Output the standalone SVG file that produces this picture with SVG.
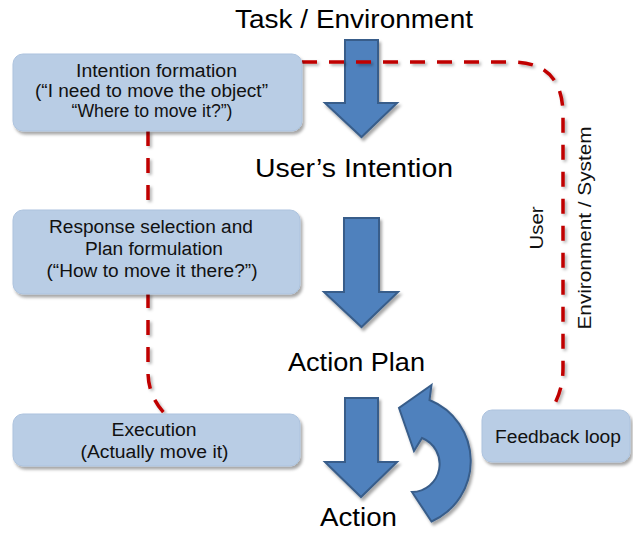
<svg xmlns="http://www.w3.org/2000/svg" width="633" height="533" viewBox="0 0 633 533">
<defs>
<filter id="sh" x="-20%" y="-20%" width="140%" height="150%">
<feDropShadow dx="2" dy="3" stdDeviation="1.8" flood-color="#000" flood-opacity="0.35"/>
</filter>
<filter id="lsh" x="-20%" y="-20%" width="140%" height="140%">
<feDropShadow dx="2" dy="2" stdDeviation="1.5" flood-color="#000" flood-opacity="0.3"/>
</filter>
</defs>
<style>
.box{fill:#b9cde5;stroke:#adc3de;stroke-width:1;filter:url(#sh)}
.arr{fill:#4f81bd;stroke:#385d8a;stroke-width:2;stroke-linejoin:miter;filter:url(#sh)}
.dash{fill:none;stroke:#c00000;stroke-width:3.5;stroke-dasharray:15 12;filter:url(#lsh)}
.bt{font-family:"Liberation Sans",Arial,sans-serif;font-size:18px;fill:#111;text-anchor:middle}
.big{font-family:"Liberation Sans",Arial,sans-serif;font-size:26px;fill:#000;text-anchor:middle}
.vt{font-family:"Liberation Sans",Arial,sans-serif;font-size:19px;fill:#111;text-anchor:middle}
</style>
<rect width="633" height="533" fill="#fff"/>

<g id="labels">
<text class="big" x="354" y="28" textLength="238" lengthAdjust="spacingAndGlyphs">Task / Environment</text>
<text class="big" x="354" y="177" textLength="198" lengthAdjust="spacingAndGlyphs">User’s Intention</text>
<text class="big" x="356.5" y="371" textLength="137" lengthAdjust="spacingAndGlyphs">Action Plan</text>
<text class="big" x="358.5" y="526" textLength="77" lengthAdjust="spacingAndGlyphs">Action</text>
<text class="vt" transform="translate(543,228) rotate(-90)" textLength="43" lengthAdjust="spacingAndGlyphs">User</text>
<text class="vt" transform="translate(591,228) rotate(-90)" textLength="203" lengthAdjust="spacingAndGlyphs">Environment / System</text>
</g>

<g id="arrow-task">
<path class="arr" d="M345,40 H378 V103 H397 L361.5,137 L325,103 H345 Z"/>
</g>
<g id="arrow-intention">
<path class="arr" d="M344,218 H379 V292 H398 L361.5,327 L324,292 H344 Z"/>
</g>
<g id="arrow-plan">
<path class="arr" d="M345,398 H378 V462 H397 L361,497 L325,462 H345 Z"/>
</g>

<g id="connectors">
<path class="dash" d="M302,62 H512 Q563,62 563,115 V368 Q563,392 551,410"/>
<path class="dash" d="M148,131 V372 Q148,396 165,414"/>
<path class="dash" d="M300,431 H482"/>
</g>

<g id="feedback-arrow">
<path class="arr" d="M431.5,385 L399,408 L414,451 L422,438 A28 28 0 0 1 412,492 L431.5,521.5 A66 66 0 0 0 429.5,400 Z"/>
</g>

<g id="node-intention">
<rect class="box" x="13" y="54" width="289" height="77" rx="10"/>
<text class="bt" x="156.5" y="77" textLength="161" lengthAdjust="spacingAndGlyphs">Intention formation</text>
<text class="bt" x="151.5" y="97" textLength="233" lengthAdjust="spacingAndGlyphs">(“I need to move the object”</text>
<text class="bt" x="152" y="117" textLength="161" lengthAdjust="spacingAndGlyphs">“Where to move it?”)</text>
</g>
<g id="node-response">
<rect class="box" x="13" y="210" width="287" height="84" rx="10"/>
<text class="bt" x="151" y="233" textLength="204" lengthAdjust="spacingAndGlyphs">Response selection and</text>
<text class="bt" x="154" y="255" textLength="138" lengthAdjust="spacingAndGlyphs">Plan formulation</text>
<text class="bt" x="152" y="277" textLength="211" lengthAdjust="spacingAndGlyphs">(“How to move it there?”)</text>
</g>
<g id="node-execution">
<rect class="box" x="13" y="414" width="287" height="52" rx="10"/>
<text class="bt" x="154" y="436" textLength="85" lengthAdjust="spacingAndGlyphs">Execution</text>
<text class="bt" x="154.5" y="458" textLength="148" lengthAdjust="spacingAndGlyphs">(Actually move it)</text>
</g>
<g id="node-feedback">
<rect class="box" x="482" y="410" width="148" height="52" rx="10"/>
<text class="bt" x="558" y="443" textLength="126" lengthAdjust="spacingAndGlyphs">Feedback loop</text>
</g>
</svg>
